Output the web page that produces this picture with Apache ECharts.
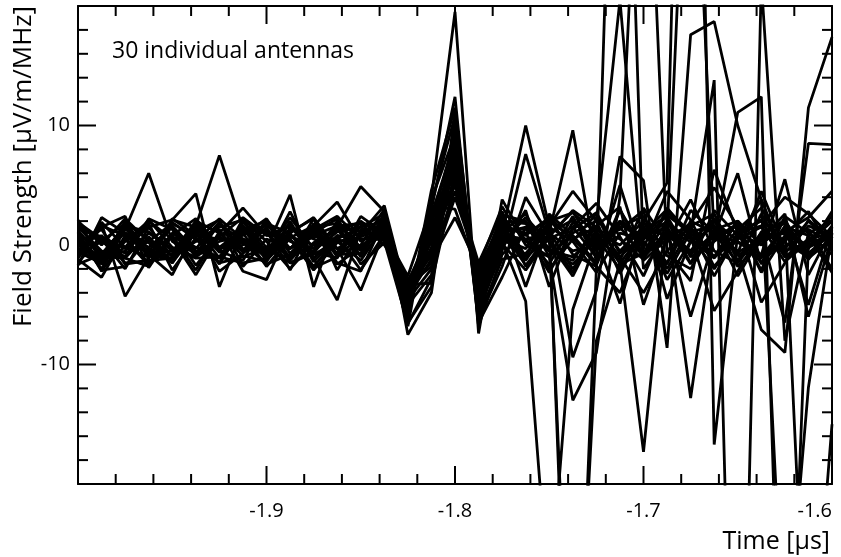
<!DOCTYPE html>
<html>
<head>
<meta charset="utf-8">
<script src="https://cdn.jsdelivr.net/npm/echarts@6/dist/echarts.min.js"></script>
<style>
html,body{margin:0;padding:0;background:#fff;overflow:hidden;width:841px;height:557px;}
#chart{width:841px;height:557px;}
</style>
</head>
<body>
<div id="chart"></div>
<script>
// Sample times [µs] (12.5 ns sampling)
const times = [-2.0, -1.9875, -1.975, -1.9625, -1.95, -1.9375, -1.925, -1.9125, -1.9, -1.8875, -1.875, -1.8625, -1.85,
  -1.8375, -1.825, -1.8125, -1.8, -1.7875, -1.775,
  -1.7625, -1.75, -1.7375, -1.725, -1.7125, -1.7, -1.6875, -1.675, -1.6625, -1.65, -1.6375, -1.625, -1.6125, -1.6];

const xTickLabels = ['-1.9', '-1.8', '-1.7', '-1.6'];
const yTickLabels = ['-10', '0', '10'];
const xMajorTicks = [-2.0, -1.9, -1.8, -1.7, -1.6];
const yMajorTicks = [-20, -10, 0, 10, 20];

// Field strength per antenna [µV/m/MHz]
const a01 = [0.8,-1.4,1.9,0.4,-0.9,1.5,-0.4,1.0,-1.8,0.6,1.6,3.6,0.3, 1.5,-4.8,1.8,9.0,-4.5,0.8, 0.5,-1.6,1.9,0.6,-2.0,1.2,2.4,-1.0,0.3,1.7,-2.3,0.8,2.8,-0.5];
const a02 = [1.6,0.3,-1.0,2.2,1.3,-1.7,0.7,-0.5,2.1,-1.2,1.0,-0.7,2.0, 0.6,-3.5,-1.5,7.5,-3.0,1.5, -0.9,2.0,0.6,-1.7,2.9,-0.3,4.5,2.1,-1.8,0.5,1.5,-1.4,0.3,2.4];
const a03 = [-0.7,1.8,-4.3,-1.0,1.9,0.5,-1.5,2.2,0.3,-2.0,0.2,1.3,-0.9, 2.0,-5.5,4.6,11.5,-5.2,0.2, 2.3,0.2,-2.6,1.3,0.5,-1.2,3.1,0.7,-5.5,-2.2,1.1,1.8,-0.7,1.0];
const a04 = [2.1,-1.4,0.5,-1.7,0.8,-2.1,1.1,-0.9,-1.4,2.0,-1.4,0.6,-2.1, 0.9,-6.2,3.0,12.4,-6.8,-0.8, 1.0,-2.3,1.3,2.7,-0.7,1.6,-2.9,0.3,2.2,-0.9,0.5,2.6,-6.0,0.7];
const a05 = [0.5,-2.0,1.3,6.0,0.3,-0.7,1.8,0.3,-1.0,1.1,2.2,-2.1,1.0, 1.8,-4.0,-0.5,8.0,-3.8,1.2, -1.7,0.8,2.8,-0.5,1.5,2.4,-0.9,-2.0,1.3,2.0,-4.8,-1.5,2.1,0.3];
const a06 = [-1.7,2.3,1.0,0.2,-1.5,1.1,2.1,-1.8,0.5,-0.3,1.5,1.8,-1.6, 0.2,-3.0,0.8,6.5,-2.5,2.0, 1.8,-0.5,-1.3,1.6,3.2,-5.0,0.7,1.5,-2.6,1.0,2.1,0.2,-1.0,1.6];
const a07 = [1.3,0.7,-0.3,1.5,2.1,4.3,-3.5,1.3,2.0,-1.5,-0.5,1.1,1.5, 2.6,-5.0,-2.5,10.0,-4.9,0.5, -0.3,2.4,0.3,-2.3,1.0,0.5,2.0,-1.5,0.8,6.0,-1.6,0.7,1.3,-2.0];
const a08 = [-1.6,-0.8,1.6,1.1,-0.5,0.3,1.5,2.1,-0.7,1.0,-1.8,0.5,-0.3, 1.2,-3.8,2.2,7.0,-3.3,1.0, 1.5,1.1,-2.0,0.8,-1.3,3.1,0.2,3.8,-0.5,-1.5,2.6,-0.7,1.6,0.8];
const a09 = [1.0,-2.1,-1.8,0.7,-1.5,1.6,7.5,1.4,-1.3,0.8,-0.6,-1.1,2.4, 1.0,-6.8,4.0,19.5,-7.4,3.8, 0.3,-1.0,2.4,-1.1,1.8,0.3,-1.6,2.9,1.0,0.2,-0.8,5.5,-2.5,1.3];
const a10 = [-1.2,-2.7,0.8,-0.5,1.6,-1.0,0.3,0.8,2.2,-0.7,1.3,2.4,0.5, 0.5,-3.3,-3.2,5.5,-2.8,1.6, -1.3,1.6,4.5,2.0,-2.4,1.3,0.8,-0.7,2.1,-1.8,0.3,1.1,2.3,4.5];
const a11 = [0.2,1.3,-1.6,-1.3,-0.7,2.0,1.0,3.1,0.8,1.6,-0.8,0.3,-1.3, 1.6,-4.5,0.8,8.5,-4.2,-0.3, 2.9,-3.5,1.5,3.5,0.7,-2.6,1.8,0.5,-1.1,1.3,3.1,-0.5,0.2,2.0];
const a12 = [-1.1,1.5,2.4,-1.9,1.0,-0.2,-1.0,-1.5,-1.1,0.5,-1.9,-1.0,0.8, 2.4,-5.8,3.5,10.8,-5.6,0.1, -2.1,0.7,2.9,1.5,-1.0,-4.0,-0.5,1.6,2.6,-1.3,0.8,2.1,-1.1,0.5];
const a13 = [1.5,-0.5,-1.1,-1.8,2.2,0.8,0.5,0.2,-0.3,1.3,0.8,1.6,1.8, 0.0,-2.8,-1.0,4.5,-2.0,1.8, 0.8,2.3,-0.8,-1.8,-4.0,1.0,1.3,-6.0,0.5,1.8,-1.0,1.5,0.8,-2.3];
const a14 = [1.2,-1.0,1.4,-0.8,-2.5,1.3,-2.2,-0.7,1.0,-1.0,1.4,-0.8,0.0, 3.0,-7.5,-4.0,9.5,-6.0,-1.2, -0.7,1.5,0.3,2.6,-1.6,-0.7,2.8,0.8,-2.0,1.0,1.6,4.0,2.6,0.7];
const a15 = [-0.3,-1.6,0.3,2.0,0.5,-2.5,0.8,1.1,1.6,0.3,-0.3,1.5,1.1, 0.8,-3.2,1.5,6.0,-2.6,2.5, 2.0,-0.3,-1.6,0.5,1.3,2.9,-4.5,0.3,1.5,-2.6,0.7,1.0,-0.3,2.8];
const a16 = [1.9,0.5,-0.7,0.3,1.8,0.7,1.3,-2.2,-2.9,1.5,0.5,-0.3,0.7, 1.4,-4.2,-0.2,7.8,-3.6,0.6, -1.0,2.6,0.8,-1.5,5.0,-1.3,0.5,1.8,4.8,1.5,-2.1,2.4,1.0,-0.8];
const a17 = [0.7,-1.5,2.0,-0.8,-1.1,1.8,-0.2,0.5,-0.3,4.2,-3.5,2.1,-0.5, 2.2,-5.2,2.4,8.8,-5.0,1.3, 1.3,0.5,-2.3,2.3,-0.5,1.5,-2.4,1.1,1.6,-0.7,4.5,-0.3,2.0,0.2];
const a18 = [-1.5,0.8,-1.5,-1.3,-1.1,1.0,-1.6,1.5,-1.0,2.8,-1.1,-4.6,1.3, 0.4,-3.6,0.3,5.0,-1.5,2.8, -1.8,1.0,2.1,-0.3,2.0,0.7,1.5,-1.6,2.9,0.8,-1.5,1.6,-5.0,1.5];
const a19 = [1.1,-2.2,0.6,-1.6,0.7,-0.3,1.9,-0.6,1.5,-2.1,1.8,-1.0,1.6, 1.9,-4.6,-2.0,7.2,-4.0,0.9, 10.0,1.5,-50,-2.0,60,-1.0,1.0,-0.5,2.0,0.3,-1.1,1.4,-0.2,0.8];
const a20 = [-0.8,0.3,1.8,-1.1,2.1,1.5,-0.6,0.0,1.8,1.0,2.3,-0.3,-3.8, 1.1,-5.4,3.8,9.2,-5.5,-0.5, 7.6,1.0,9.6,-1.5,3.0,-1.0,1.2,0.3,-1.0,2.0,-1.0,0.4,1.3,0.2];
const a21 = [1.8,-1.0,-1.1,1.0,-0.3,-1.1,-1.0,1.6,-0.6,2.3,-0.3,1.5,4.9, 2.8,-6.5,-3.5,11.0,-6.2,-1.8, 4.0,0.8,-45,-8.0,-1.5,-17.3,2.0,-0.8,1.0,-0.6,0.5,1.0,-1.2,1.5];
const a22 = [0.3,-1.1,-0.5,1.8,-2.1,0.6,-1.5,-1.0,-0.2,0.5,-2.1,0.2,1.0, 3.3,-4.4,1.9,6.8,-3.2,1.1, 2.6,-1.0,-13,-9.0,4.0,45,-0.5,-3.0,6.3,1.0,2.0,-1.0,0.5,1.0];
const a23 = [-0.5,1.6,0.8,-0.7,0.8,2.2,-0.2,1.3,1.1,-1.3,1.0,2.2,-1.0, 1.3,-3.9,-0.8,5.8,-2.2,2.2, -3.5,2.0,-9.4,-3.8,7.4,5.4,-8.6,17.6,18.7,10.0,3.8,-1.0,0.0,1.0];
const a24 = [1.5,0.5,-2.0,1.5,-1.0,0.3,2.2,0.5,-0.8,1.8,-1.1,0.8,0.5, 0.7,-5.9,2.6,8.2,-4.7,0.3, -4.7,-30,-5.4,0.5,-4.9,2.0,5.2,80,-16.7,1.0,0.0,2.0,-1.0,0.5];
const a25 = [-0.6,-1.5,1.5,-0.3,-1.3,2.0,-0.5,-1.3,2.1,-0.3,1.5,-1.5,-2.2, 2.1,-4.9,0.5,7.6,-4.4,1.4, 1.0,2.0,2.7,1.0,-1.5,1.0,3.0,1.0,13.8,-60,22,-8.0,1.0,2.0];
const a26 = [-1.0,1.9,-0.2,-1.0,1.6,-0.5,-1.1,1.9,-0.2,-1.5,-0.7,1.9,-0.2, 1.7,-3.4,-1.8,4.0,-1.8,3.2, 0.0,-1.0,1.0,2.0,20.5,-2.0,1.0,45,0.5,11.1,12.4,-50,0.0,1.0];
const a27 = [2.0,0.0,2.2,0.3,-1.3,1.5,-1.1,1.0,1.3,-0.3,0.7,0.5,1.5, 0.3,-6.6,-2.8,10.4,-6.5,-2.7, 1.5,-0.5,-1.0,1.0,0.0,2.0,-2.0,1.5,-1.0,0.5,3.8,-35,-11.9,1.0];
const a28 = [0.0,-1.3,-0.2,2.1,-0.2,-1.0,1.8,-0.3,-0.5,-1.1,2.2,-0.8,-0.7, 2.5,-5.1,1.2,6.2,-3.9,0.7, 0.5,1.0,-0.5,0.0,1.5,-1.0,2.0,-12.8,1.0,-0.5,-7.1,-9.0,11.5,17.4];
const a29 = [1.0,-0.7,1.0,-0.2,1.5,-0.8,0.7,2.3,0.8,0.7,0.0,1.3,1.9, 1.0,-2.6,3.2,3.0,-2.4,2.4, -1.0,0.5,1.5,-1.0,2.0,0.5,2.5,1.0,-1.0,2.0,0.0,2.0,-40,-15];
const a30 = [-0.3,-0.8,1.6,-0.7,-0.5,1.6,-0.3,0.2,-1.6,-0.8,1.1,-1.6,-0.2, 1.5,-4.3,-1.2,2.3,-1.9,1.9, 2.0,-2.0,0.5,1.5,-1.0,1.0,-1.5,2.0,1.0,-1.5,1.0,-6.5,8.5,8.4];

const antennas = [a01,a02,a03,a04,a05,a06,a07,a08,a09,a10,a11,a12,a13,a14,a15,a16,a17,a18,a19,a20,a21,a22,a23,a24,a25,a26,a27,a28,a29,a30];

const FONT = "'Open Sans', 'DejaVu Sans', sans-serif";
const black = '#000';

const series = antennas.map((vals, i) => ({
  type: 'line',
  name: 'antenna ' + (i + 1),
  xAxisIndex: 0,
  yAxisIndex: 0,
  data: vals.map((v, k) => [times[k], v]),
  showSymbol: false,
  symbol: 'none',
  clip: true,
  lineStyle: { color: black, width: 2.8 },
  emphasis: { disabled: true },
  animation: false,
  z: 2
}));

function makeAxis(position, min, max, interval, label) {
  return {
    type: 'value',
    position: position,
    min: min,
    max: max,
    interval: interval,
    axisLine: { show: true, onZero: false, lineStyle: { color: black, width: 2 } },
    axisTick: { show: false },
    minorTick: { show: false },
    splitLine: { show: false },
    minorSplitLine: { show: false },
    axisLabel: label ? label : { show: false }
  };
}

const chart = echarts.init(document.getElementById('chart'), null, { renderer: 'canvas', width: 841, height: 557 });
chart.setOption({
  backgroundColor: '#fff',
  animation: false,
  grid: { left: 78, right: 9, top: 6, bottom: 73, containLabel: false, outerBoundsMode: 'none' },
  xAxis: [
    makeAxis('bottom', -2.0, -1.6, 0.1, {
      show: true, margin: 17, color: black, fontFamily: FONT, fontSize: 20,
      alignMaxLabel: 'right',
      formatter: v => { const s = v.toFixed(1); return xTickLabels.includes(s) ? s : ''; }
    }),
    makeAxis('top', -2.0, -1.6, 0.1, null)
  ],
  yAxis: [
    makeAxis('left', -20, 20, 10, {
      show: true, margin: 8, color: black, fontFamily: FONT, fontSize: 20,
      formatter: v => { const s = String(Math.round(v)); return yTickLabels.includes(s) ? s : ''; }
    }),
    makeAxis('right', -20, 20, 10, null)
  ],
  series: series
});

const texts = [
  {
    type: 'text', left: 112, top: 40, silent: true, z: 20,
    style: { text: '30 individual antennas', fill: black, font: "23px 'Open Sans', 'DejaVu Sans', sans-serif" }
  },
  {
    type: 'text', x: 830, y: 542, silent: true, z: 20,
    style: { text: 'Time [µs]', fill: black, font: "25px 'Open Sans', 'DejaVu Sans', sans-serif", align: 'right', verticalAlign: 'middle' }
  },
  {
    type: 'text', x: 24, y: 6, rotation: Math.PI / 2, silent: true, z: 20,
    style: { text: 'Field Strength [µV/m/MHz]', fill: black, font: "26px 'Open Sans', 'DejaVu Sans', sans-serif", align: 'right', verticalAlign: 'middle' }
  }
];

// Tick marks (inside, on all four sides), positioned through the chart's own axes
const ticks = [];
const MAJ = 18, MIN = 10;
const px = v => chart.convertToPixel({ xAxisIndex: 0 }, v);
const py = v => chart.convertToPixel({ yAxisIndex: 0 }, v);
const xL = px(-2.0), xR = px(-1.6), yB = py(-20), yT = py(20);
function tickLine(x1, y1, x2, y2) {
  ticks.push({ type: 'line', silent: true, z: 15, shape: { x1: x1, y1: y1, x2: x2, y2: y2 }, style: { stroke: black, lineWidth: 2 } });
}
for (let i = 0; i < xMajorTicks.length; i++) {
  const v0 = xMajorTicks[i];
  const X = px(v0);
  tickLine(X, yB, X, yB - MAJ);
  tickLine(X, yT, X, yT + MAJ);
  if (i < xMajorTicks.length - 1) {
    const step = (xMajorTicks[i + 1] - v0) / 5;
    for (let m = 1; m < 5; m++) {
      const Xm = px(v0 + m * step);
      tickLine(Xm, yB, Xm, yB - MIN);
      tickLine(Xm, yT, Xm, yT + MIN);
    }
  }
}
for (let i = 0; i < yMajorTicks.length; i++) {
  const v0 = yMajorTicks[i];
  const Y = py(v0);
  tickLine(xL, Y, xL + MAJ, Y);
  tickLine(xR, Y, xR - MAJ, Y);
  if (i < yMajorTicks.length - 1) {
    const step = (yMajorTicks[i + 1] - v0) / 5;
    for (let m = 1; m < 5; m++) {
      const Ym = py(v0 + m * step);
      tickLine(xL, Ym, xL + MIN, Ym);
      tickLine(xR, Ym, xR - MIN, Ym);
    }
  }
}

chart.setOption({ graphic: texts.concat(ticks) });
</script>
</body>
</html>
